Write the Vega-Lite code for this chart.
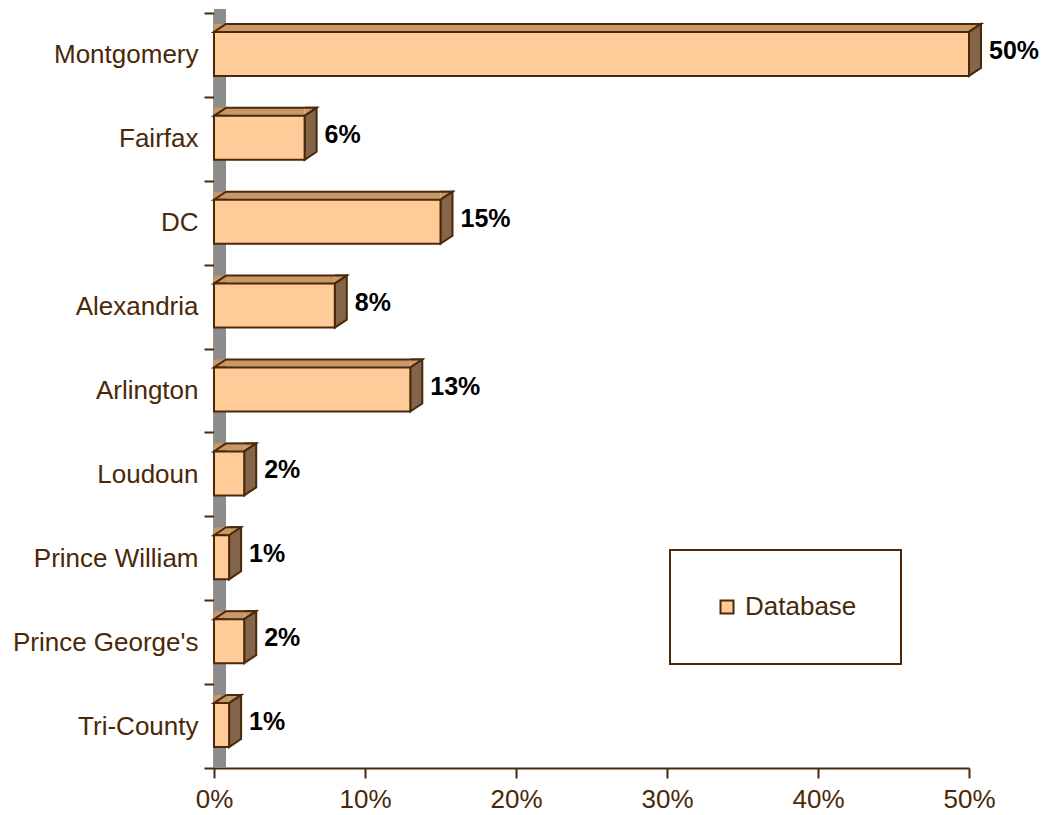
{
  "$schema": "https://vega.github.io/schema/vega-lite/v6.json",
  "width": 755,
  "height": 755,
  "autosize": "none",
  "padding": {"left": 214, "top": 13, "right": 76, "bottom": 47},
  "background": "white",
  "data": {
    "values": [
      {"county": "Montgomery", "value": 0.50},
      {"county": "Fairfax", "value": 0.06},
      {"county": "DC", "value": 0.15},
      {"county": "Alexandria", "value": 0.08},
      {"county": "Arlington", "value": 0.13},
      {"county": "Loudoun", "value": 0.02},
      {"county": "Prince William", "value": 0.01},
      {"county": "Prince George's", "value": 0.02},
      {"county": "Tri-County", "value": 0.01}
    ]
  },
  "config": {
    "view": {"stroke": null},
    "font": "Liberation Sans",
    "legend": {"strokeWidth": 2},
    "axis": {
      "domainColor": "#4A2808",
      "domainWidth": 2,
      "tickColor": "#4A2808",
      "tickWidth": 2,
      "tickSize": 10,
      "labelFont": "Liberation Sans",
      "labelFontSize": 26,
      "labelColor": "#4A2808",
      "labelLimit": 400,
      "grid": false,
      "title": null,
      "zindex": 1
    }
  },
  "encoding": {
    "y": {"field": "county", "type": "nominal", "sort": null,
          "scale": {"paddingInner": 0, "paddingOuter": 0},
          "axis": {"tickBand": "extent", "labelPadding": 6}},
    "x": {"field": "value", "type": "quantitative",
          "scale": {"domain": [0, 0.5], "nice": false},
          "axis": {"values": [0, 0.1, 0.2, 0.3, 0.4, 0.5], "format": ".0%", "labelPadding": 8, "labelFlush": false}}
  },
  "layer": [
    {
      "mark": {"type": "rule", "stroke": "#8C8C8C", "strokeWidth": 12, "xOffset": 6, "yOffset": -4, "y2Offset": -4},
      "encoding": {
        "x": {"datum": 0, "type": "quantitative"},
        "y": null
      }
    },
    {
      "mark": {"type": "bar", "fill": "#C89868", "x2Offset": 12, "size": 8, "yOffset": -27}
    },
    {
      "mark": {"type": "bar", "fill": "#4A2808", "x2Offset": 12, "xOffset": 12, "size": 2, "yOffset": -31}
    },
    {
      "mark": {"type": "point", "shape": "M 12 0 L 0 0 L 12 -8", "size": 4, "filled": true, "fill": "#C89868",
               "stroke": "#4A2808", "strokeWidth": 2, "opacity": 1, "yOffset": -23},
      "encoding": {
        "x": {"datum": 0, "type": "quantitative"}
      }
    },
    {
      "mark": {"type": "point", "shape": "M 0 -8 L 12 -8 L 0 0", "size": 4, "filled": true, "fill": "#C89868",
               "stroke": "#4A2808", "strokeWidth": 2, "opacity": 1, "yOffset": -23}
    },
    {
      "mark": {"type": "point", "shape": "M 0 0 L 12 -8 L 12 36 L 0 44 Z", "size": 4, "filled": true, "fill": "#84654A",
               "stroke": "#4A2808", "strokeWidth": 2, "opacity": 1, "yOffset": -23}
    },
    {
      "mark": {"type": "bar", "size": 44, "yOffset": -1, "stroke": "#4A2808", "strokeWidth": 2},
      "encoding": {
        "fill": {
          "datum": "Database",
          "scale": {"range": ["#FFCC99"]},
          "legend": {
            "orient": "none", "legendX": 456, "legendY": 537, "title": null,
            "padding": 44, "symbolType": "square", "symbolSize": 169,
            "symbolStrokeColor": "#4A2808", "symbolStrokeWidth": 2,
            "labelFont": "Liberation Sans", "labelFontSize": 26, "labelColor": "#4A2808", "labelOffset": 5,
            "strokeColor": "#4A2808", "fillColor": "white"
          }
        }
      }
    },
    {
      "mark": {"type": "text", "align": "left", "baseline": "middle", "dx": 20, "dy": -4,
               "font": "Liberation Sans", "fontSize": 25, "fontWeight": "bold", "fill": "black"},
      "encoding": {
        "text": {"field": "value", "type": "quantitative", "format": ".0%"}
      }
    }
  ]
}
